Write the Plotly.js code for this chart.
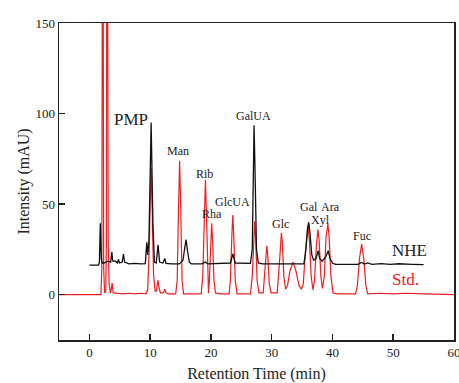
<!DOCTYPE html>
<html>
<head>
<meta charset="utf-8">
<script src="https://cdn.plot.ly/plotly-3.0.1.min.js"></script>
<style>html,body{margin:0;padding:0;background:#fff;}#chart{width:459px;height:383px;}</style>
</head>
<body>
<div id="chart"></div>
<script>
// Std. (mixed standard) chromatogram
const stdTime = [-5, 1.9, 2.05, 2.2, 2.35, 2.5, 2.7, 2.8, 2.9, 3.0, 3.1, 3.25, 3.45, 3.6, 3.75, 3.9, 4.5, 5.5, 6.5, 7.5, 8.5, 9.3, 9.6, 9.85, 10.0, 10.17, 10.35, 10.55, 10.8, 11.0, 11.15, 11.3, 11.45, 11.7, 12.2, 12.4, 12.6, 13.0, 14.2, 14.45, 14.65, 14.85, 15.05, 15.25, 15.5, 18.4, 18.65, 18.9, 19.1, 19.3, 19.45, 19.6, 19.75, 19.95, 20.12, 20.3, 20.5, 20.75, 21.5, 23.0, 23.2, 23.45, 23.6, 23.75, 24.0, 24.3, 26.5, 26.8, 27.05, 27.2, 27.35, 27.6, 27.9, 28.6, 28.85, 29.05, 29.2, 29.35, 29.6, 29.9, 30.9, 31.2, 31.45, 31.6, 31.75, 32.0, 32.3, 32.6, 33.0, 33.5, 34.0, 34.5, 34.9, 35.2, 35.55, 35.85, 36.0, 36.2, 36.5, 36.8, 37.05, 37.35, 37.6, 37.8, 38.1, 38.35, 38.65, 38.95, 39.25, 39.45, 39.75, 40.1, 40.8, 43.8, 44.1, 44.45, 44.8, 45.15, 45.5, 45.8, 48, 50, 52, 55, 60];
const stdSignal = [0, 0, 15, 320, 15, 1, 2, 30, 330, 45, 28, 6, 1, 3, 6.5, 1, 0.8, 0.5, 0.8, 0.5, 0.8, 0.5, 3, 25, 50, 70, 45, 12, 2, 2, 5, 8, 4, 1, 1, 3, 1, 0.5, 0.5, 8, 45, 74, 45, 8, 0.5, 0.5, 10, 45, 63.5, 40, 10, 1, 8, 32, 39.5, 28, 8, 1, 0.5, 0.5, 8, 33, 44, 33, 8, 0.5, 0.5, 10, 34, 40.5, 32, 8, 1, 1, 12, 24, 27, 22, 6, 1, 1, 14, 30, 34, 29, 10, 3, 5, 13, 18, 13, 5, 3, 6, 24, 36, 37.5, 30, 10, 2.6, 8, 27, 36, 30, 10, 3.5, 10, 32, 39, 32, 10, 1, 0.5, 0.5, 5, 20, 28, 20, 5, 0.5, 0.8, 0.5, 0.8, 0.5, 0];

// NHE sample chromatogram
const nheTime = [0, 1.5, 1.65, 1.8, 1.95, 2.1, 2.4, 3.0, 3.5, 3.7, 3.85, 4.3, 4.6, 4.8, 4.95, 5.4, 5.6, 5.8, 6.5, 7.5, 8.5, 9.2, 9.45, 9.6, 9.8, 10.16, 10.45, 10.7, 11.0, 11.3, 11.55, 12.1, 12.4, 12.6, 13.5, 14.8, 15.4, 15.65, 15.9, 16.15, 16.45, 16.8, 18.5, 19.1, 19.5, 23.2, 23.6, 24.0, 26.5, 26.8, 27.0, 27.1, 27.25, 27.5, 27.8, 28.5, 35.3, 35.6, 35.9, 36.1, 36.3, 36.6, 36.9, 37.3, 37.65, 37.9, 38.3, 38.9, 39.3, 39.6, 40.0, 40.5, 44.2, 44.8, 45.3, 45.8, 46.5, 48, 49.5, 51, 53, 55];
const nheSignal = [16.3, 16.3, 18, 39.5, 20, 17.5, 17.5, 18.5, 18, 23.5, 18.5, 18.5, 17.5, 19.5, 17.5, 18, 22.4, 18, 17, 17.3, 17, 17.2, 29, 22, 30, 95, 40, 18, 17.5, 27.5, 18, 17.5, 20, 17.3, 17, 17, 19, 26, 30.5, 24, 18, 17, 17, 18, 17, 17.5, 22.5, 17.5, 17.3, 25, 70, 93.5, 70, 25, 17.5, 17, 17, 24, 37, 40, 34, 22, 19, 20, 24.3, 20, 18.5, 21, 24.3, 20, 17.5, 16.7, 16.8, 17.8, 16.9, 17.6, 16.8, 17.2, 16.8, 17.1, 16.8, 16.6];

// Peak labels
const peakNames = ["PMP", "Man", "Rib", "Rha", "GlcUA", "GalUA", "Glc", "Gal", "Ara", "Xyl", "Fuc"];
const peakLabelX = [6.84, 14.66, 18.95, 20.1, 23.56, 27.0, 31.47, 36.08, 39.7, 38.05, 44.8];
const peakLabelY = [96.8, 79.2, 66.5, 44.5, 51.1, 98.5, 39.0, 48.3, 48.3, 41.2, 32.4];
const seriesNames = ["NHE", "Std."];

const serif = "'Liberation Serif', 'Times New Roman', Times, serif";
const red = "rgb(232,32,36)";
const black = "#111";

const annotations = peakNames.map((n, i) => ({
  x: peakLabelX[i], y: peakLabelY[i], text: n, showarrow: false,
  xanchor: "center", yanchor: "middle",
  font: {family: serif, size: i === 0 ? 17 : 12, color: "#222"}
}));
annotations.push({x: 52.7, y: 24.6, text: seriesNames[0], showarrow: false, xanchor: "center", yanchor: "middle", font: {family: serif, size: 17, color: "#222"}});
annotations.push({x: 52.06, y: 8.6, text: seriesNames[1], showarrow: false, xanchor: "center", yanchor: "middle", font: {family: serif, size: 17, color: red}});

const data = [
  {x: stdTime, y: stdSignal, type: "scatter", mode: "lines", name: seriesNames[1], line: {color: red, width: 1.2}},
  {x: nheTime, y: nheSignal, type: "scatter", mode: "lines", name: seriesNames[0], line: {color: black, width: 1.3}}
];

const axisCommon = {
  showgrid: false, zeroline: false, showline: true, mirror: true,
  linecolor: "#222", linewidth: 1.5, ticks: "inside", ticklen: 6, tickwidth: 1.5, tickcolor: "#222",
  tickfont: {family: serif, size: 13, color: "#222"}, ticklabeloverflow: "allow"
};

const layout = {
  width: 459, height: 383,
  margin: {l: 59, r: 5, t: 23, b: 43},
  paper_bgcolor: "#fff", plot_bgcolor: "#fff",
  showlegend: false,
  font: {family: serif},
  xaxis: Object.assign({}, axisCommon, {
    range: [-5, 60], tickvals: [0, 10, 20, 30, 40, 50, 60], automargin: false,
    title: {text: "Retention Time (min)", font: {family: serif, size: 16, color: "#222"}, standoff: 14}
  }),
  yaxis: Object.assign({}, axisCommon, {
    range: [-25, 150], tickvals: [0, 50, 100, 150],
    title: {text: "Intensity (mAU)", font: {family: serif, size: 16, color: "#222"}, standoff: 2}
  }),
  annotations: annotations
};

Plotly.newPlot("chart", data, layout, {displayModeBar: false, staticPlot: true});
</script>
</body>
</html>
